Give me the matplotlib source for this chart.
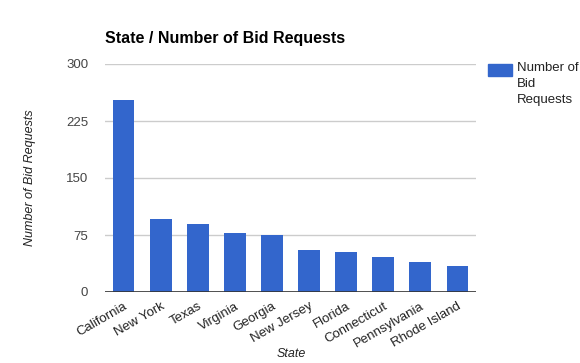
import matplotlib.pyplot as plt
from matplotlib.patches import Rectangle

states = ["California", "New York", "Texas", "Virginia", "Georgia",
          "New Jersey", "Florida", "Connecticut", "Pennsylvania", "Rhode Island"]
requests = [252, 96, 90, 77, 75, 55, 52, 46, 39, 34]
yticks = [0, 75, 150, 225, 300]

plt.rcParams['font.family'] = ['Liberation Sans', 'DejaVu Sans']

fig = plt.figure(figsize=(5.8, 3.63), dpi=100)
ax = fig.add_axes([105 / 580, 1 - 292 / 363, 371 / 580, 228 / 363])

x = range(len(states))
ax.bar(x, requests, width=0.585, color='#3366cc', zorder=3)
ax.set_xlim(-0.5, len(states) - 0.5)
ax.set_ylim(0, 300)
ax.set_yticks(yticks)
ax.set_yticklabels([str(v) for v in yticks], fontsize=9.5, color='#444444')
ax.grid(axis='y', color='#cccccc', linewidth=1, zorder=0)
ax.axhline(0, color='#333333', linewidth=1.2, zorder=4)
for s in ax.spines.values():
    s.set_visible(False)
ax.tick_params(length=0)
ax.tick_params(axis='y', pad=12)

ax.set_xticks(list(x))
ax.set_xticklabels(states, rotation=30, ha='right', rotation_mode='anchor',
                   fontsize=9.5, color='#222222')
ax.tick_params(axis='x', pad=6)

fig.text(30 / 580, 1 - 178 / 363, "Number of Bid Requests", rotation=90,
         ha='center', va='center', fontsize=9, style='italic', color='#222222')
fig.text(291 / 580, 1 - 354 / 363, "State", ha='center', va='center',
         fontsize=9, style='italic', color='#222222')
fig.text(105 / 580, 1 - 38 / 363, "State / Number of Bid Requests", ha='left',
         va='center', fontsize=11.5, fontweight='bold', color='#000000')

fig.patches.append(Rectangle((488 / 580, 1 - 76 / 363), 24 / 580, 12 / 363,
                             transform=fig.transFigure, color='#3366cc', figure=fig))
fig.text(517 / 580, 1 - 62 / 363, "Number of\nBid\nRequests", ha='left', va='top',
         fontsize=9.5, color='#222222', linespacing=1.45)

fig.savefig("out.png", dpi=100)
